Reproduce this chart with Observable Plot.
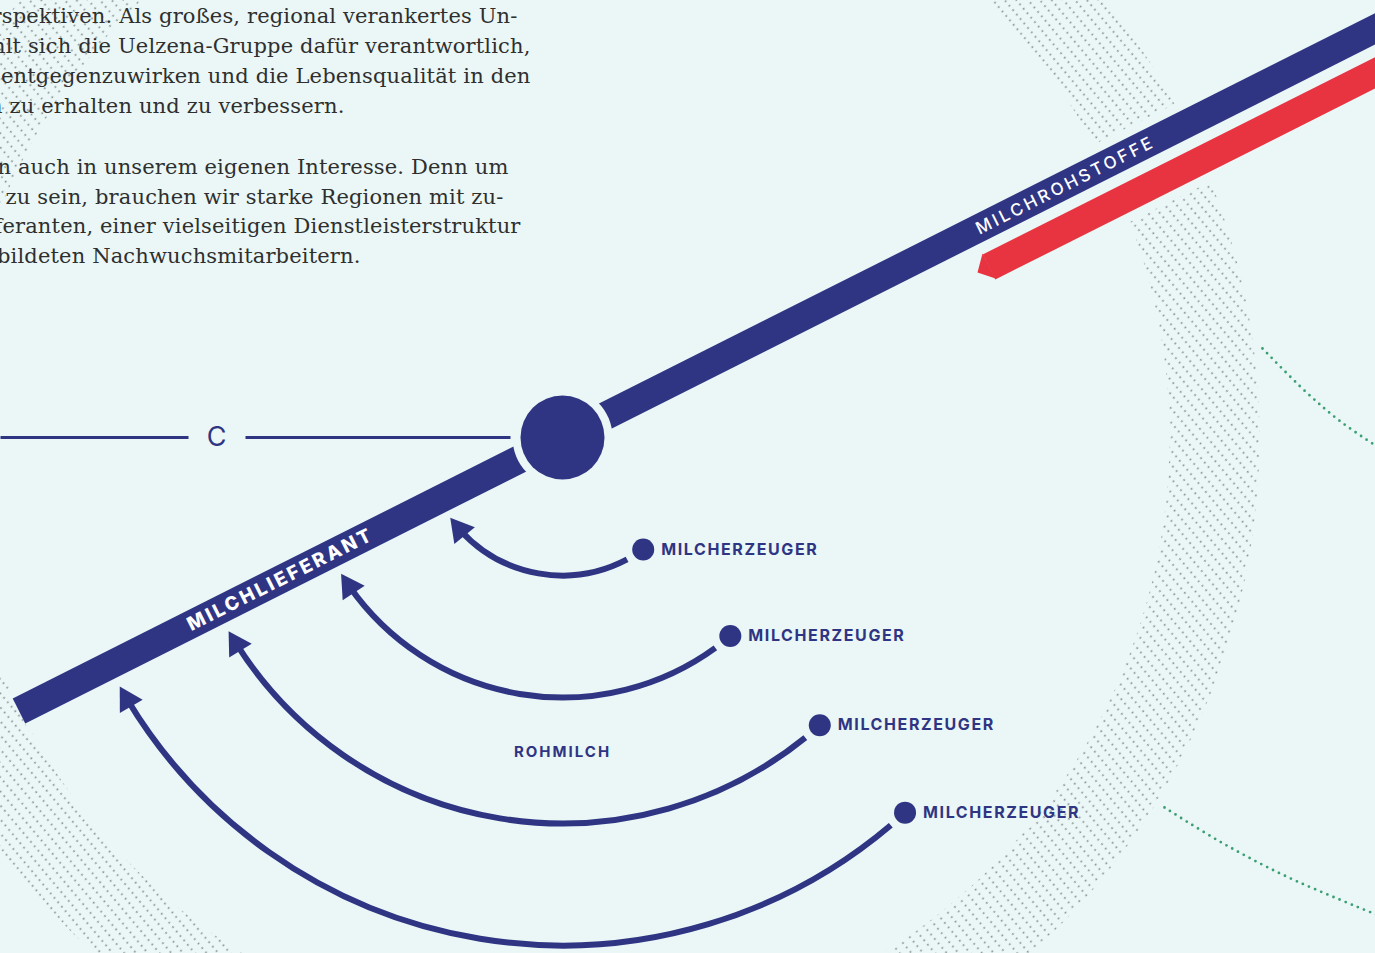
<!DOCTYPE html>
<html><head><meta charset="utf-8">
<script src="https://cdn.jsdelivr.net/npm/d3@7"></script>
<script src="https://cdn.jsdelivr.net/npm/@observablehq/plot@0.6"></script>
<style>
html,body{margin:0;padding:0;background:#eaf7f6;overflow:hidden;}
#chart svg{display:block;}
</style></head><body><div id="chart"></div>
<script>
// ---- data (layout units = pixels of the 1375x953 frame) ----
const hub = {x: 562, y: 437};
const producerLabels = ["MILCHERZEUGER", "MILCHERZEUGER", "MILCHERZEUGER", "MILCHERZEUGER"];
const arcRadius = [138, 260, 386, 508];
const arcStartDeg = [54.2, 49.8, 48.2, 47.6];
const arcTipDeg = [143.9, 148.1, 149.7, 150.5];
const flowLabel = "ROHMILCH";
const flowLabelPos = {x: 562, y: 752};
const supplierLabel = "MILCHLIEFERANT";
const supplierLabelPos = {x: 280, y: 579};
const rawLabel = "MILCHROHSTOFFE";
const rawLabelPos = {x: 1065, y: 185};
const barLine = [{x1: 18.5, y1: 710.5, x2: 1400, y2: 15.6}];
const redLine = [{x1: 988.5, y1: 266.5, x2: 1400, y2: 59.6}];
const redTip = [{x: 982, y: 253}, {x: 977, y: 272}, {x: 995, y: 278}];
const sectionLetter = "C";
const sectionLetterX = 216;
const sectionLineX1 = [0, 245];
const sectionLineX2 = [188, 510];
const greenTopX = [1262, 1305, 1340, 1378];
const greenTopY = [348, 391, 421, 447];
const greenBottomX = [1164, 1221, 1286, 1378];
const greenBottomY = [807, 842, 876, 915];
const paragraphLines = [
  "Perspektiven. Als großes, regional verankertes Un-",
  "ternehmen fühlt sich die Uelzena-Gruppe dafür verantwortlich,",
  "der Abwanderung entgegenzuwirken und die Lebensqualität in den",
  "Regionen zu erhalten und zu verbessern.",
  "Dies liegt ohnehin auch in unserem eigenen Interesse. Denn um",
  "erfolgreich zu sein, brauchen wir starke Regionen mit zu-",
  "verlässigen Lieferanten, einer vielseitigen Dienstleisterstruktur",
  "und gut ausgebildeten Nachwuchsmitarbeitern."
];
const paragraphEndX = [517, 530, 530, 344, 508, 503, 520, 360];
const paragraphBaseY = [22, 52, 82, 112, 173, 203, 232, 262];

// ---- styles ----
const BG = "#eaf7f6", BLUE = "#2f3583", RED = "#e83440", GREEN = "#3a9f73";
const rad = Math.PI / 180;

const arcs = arcRadius.map((r, i) => {
  const s = arcStartDeg[i] * rad, t = arcTipDeg[i] * rad;
  const c = t - 14 / r;
  return {
    label: producerLabels[i], r,
    x1: hub.x + r * Math.cos(s), y1: hub.y + r * Math.sin(s),
    x2: hub.x + r * Math.cos(c), y2: hub.y + r * Math.sin(c),
    bend: (c - s) / rad / 2,
    rot: ((c + t) / 2) / rad - 180
  };
});
const paragraph = paragraphLines.map((t, i) => ({t, x: paragraphEndX[i], y: paragraphBaseY[i]}));
const sectionLines = sectionLineX1.map((x1, i) => ({x1, x2: sectionLineX2[i], y: hub.y}));
const greenTop = greenTopX.map((x, i) => ({x, y: greenTopY[i]}));
const greenBottom = greenBottomX.map((x, i) => ({x, y: greenBottomY[i]}));

const defs = () => {
  const d = d3.create("svg:defs");
  const p = d.append("pattern").attr("id", "dots").attr("patternUnits", "userSpaceOnUse")
    .attr("width", 5.8).attr("height", 9).attr("patternTransform", "rotate(50)");
  p.append("circle").attr("cx", 2.9).attr("cy", 4.5).attr("r", 1.0).attr("fill", "#8a9496");
  return d.node();
};

const sans = "Inter, 'Open Sans', sans-serif";

const plot = Plot.plot({
  width: 1375, height: 953, margin: 0,
  x: {domain: [0, 1375], range: [0, 1375], axis: null},
  y: {domain: [0, 953], range: [0, 953], axis: null},
  style: {background: BG, overflow: "hidden"},
  marks: [
    defs,
    // dotted ring
    Plot.dot([hub], {x: "x", y: "y", r: 652, fill: "none", stroke: "url(#dots)", strokeWidth: 90}),
    // green dotted arcs
    Plot.line(greenTop, {x: "x", y: "y", curve: "catmull-rom", stroke: GREEN, strokeWidth: 2.8, strokeDasharray: "0 6.6", strokeLinecap: "round"}),
    Plot.line(greenBottom, {x: "x", y: "y", curve: "catmull-rom", stroke: GREEN, strokeWidth: 2.8, strokeDasharray: "0 6.6", strokeLinecap: "round"}),
    // halos
    Plot.link(barLine, {x1: "x1", y1: "y1", x2: "x2", y2: "y2", stroke: BG, strokeWidth: 46}),
    Plot.link(redLine, {x1: "x1", y1: "y1", x2: "x2", y2: "y2", stroke: BG, strokeWidth: 46}),
    // bars
    Plot.line(redTip, {x: "x", y: "y", fill: RED, stroke: "none", curve: "linear-closed"}),
    Plot.link(redLine, {x1: "x1", y1: "y1", x2: "x2", y2: "y2", stroke: RED, strokeWidth: 28}),
    Plot.link(barLine, {x1: "x1", y1: "y1", x2: "x2", y2: "y2", stroke: BLUE, strokeWidth: 28}),
    // section line with letter
    Plot.link(sectionLines, {x1: "x1", x2: "x2", y1: "y", y2: "y", stroke: BLUE, strokeWidth: 3}),
    Plot.text([sectionLetter], {x: sectionLetterX, y: hub.y, text: d => d, fill: BLUE, fontSize: 27, fontFamily: sans, fontWeight: 400}),
    // hub
    Plot.dot([hub], {x: "x", y: "y", r: 50, fill: BG}),
    Plot.dot([hub], {x: "x", y: "y", r: 42, fill: BLUE}),
    // arcs
    ...arcs.map(a => Plot.arrow([a], {x1: "x1", y1: "y1", x2: "x2", y2: "y2", bend: a.bend, insetStart: 19, headLength: 0, stroke: BLUE, strokeWidth: 6, strokeLinecap: "butt"})),
    Plot.dot(arcs, {x: "x2", y: "y2", symbol: "triangle", r: 9.8, rotate: "rot", fill: BLUE, stroke: "none"}),
    Plot.dot(arcs, {x: "x1", y: "y1", r: 11, fill: BLUE}),
    Plot.text(arcs, {x: d => d.x1 + 18, y: "y1", text: "label", textAnchor: "start", fill: BLUE, fontSize: 16, fontWeight: 700, fontFamily: sans}),
    Plot.text([flowLabel], {x: flowLabelPos.x, y: flowLabelPos.y, text: d => d, fill: BLUE, fontSize: 15, fontWeight: 700, fontFamily: sans}),
    // bar labels
    Plot.text([supplierLabel], {x: supplierLabelPos.x, y: supplierLabelPos.y, text: d => d, rotate: -26.7, fill: "white", fontSize: 19, fontWeight: 800, fontFamily: sans}),
    Plot.text([rawLabel], {x: rawLabelPos.x, y: rawLabelPos.y, text: d => d, rotate: -26.7, fill: "white", fontSize: 17, fontWeight: 500, fontFamily: sans}),
    // paragraph
    Plot.text(paragraph, {x: "x", y: "y", text: "t", textAnchor: "end", lineAnchor: "bottom", fill: "#2f2f2f", fontSize: 21, fontFamily: "'DejaVu Serif', serif"})
  ]
});

d3.select(plot).selectAll("text").each(function () {
  const t = this.textContent;
  if (t === "MILCHERZEUGER") this.setAttribute("letter-spacing", "1.6");
  else if (t === "ROHMILCH") this.setAttribute("letter-spacing", "2");
  else if (t === "MILCHLIEFERANT") this.setAttribute("letter-spacing", "2.8");
  else if (t === "MILCHROHSTOFFE") this.setAttribute("letter-spacing", "3");
  else if (paragraphLines.includes(t)) this.setAttribute("letter-spacing", "0.15");
});
document.getElementById("chart").appendChild(plot);
</script></body></html>
